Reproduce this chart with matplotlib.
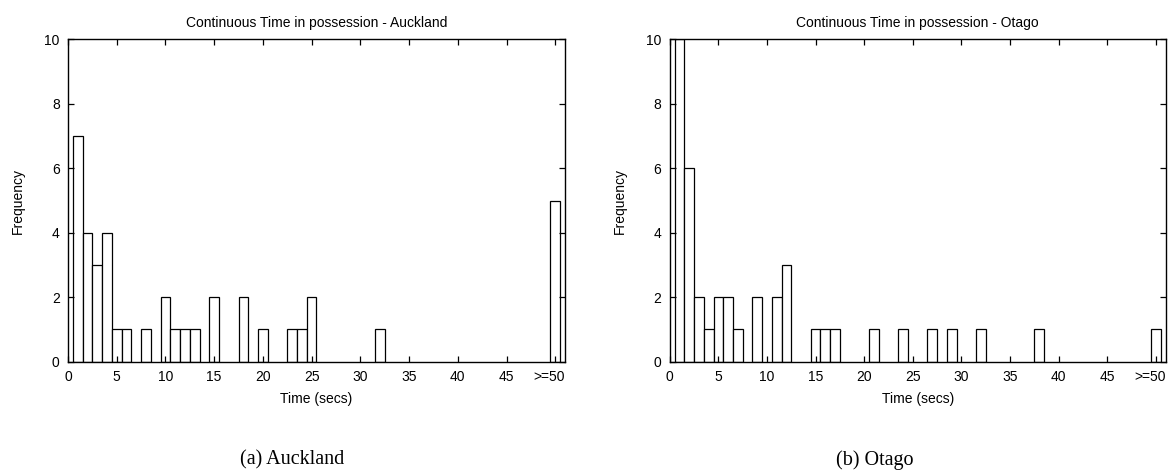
import matplotlib
matplotlib.use("Agg")
import matplotlib.pyplot as plt
import matplotlib.transforms as mtransforms

plt.rcParams['font.family'] = ['Liberation Sans', 'DejaVu Sans']

# Auckland histogram (bin centre -> frequency)
auck_bins = [1, 2, 3, 4, 5, 6, 8, 10, 11, 12, 13, 15, 18, 20, 23, 24, 25, 32, 50]
auck_freq = [7, 4, 3, 4, 1, 1, 1, 2, 1, 1, 1, 2, 2, 1, 1, 1, 2, 1, 5]

# Otago histogram
otago_bins = [1, 2, 3, 4, 5, 6, 7, 9, 11, 12, 15, 16, 17, 21, 24, 27, 29, 32, 38, 50]
otago_freq = [10, 6, 2, 1, 2, 2, 1, 2, 2, 3, 1, 1, 1, 1, 1, 1, 1, 1, 1, 1]

xtick_vals = [0, 5, 10, 15, 20, 25, 30, 35, 40, 45, 50]
xtick_labels = ['0', '5', '10', '15', '20', '25', '30', '35', '40', '45', '>=50']
ytick_vals = [0, 2, 4, 6, 8, 10]

titles = ['Continuous Time in possession - Auckland', 'Continuous Time in possession - Otago']
captions = ['(a) Auckland', '(b) Otago']

fig = plt.figure(figsize=(11.7, 4.7), dpi=100)
ax1 = fig.add_axes([0.0581, 0.2304, 0.4248, 0.686])
ax2 = fig.add_axes([0.5725, 0.2304, 0.4237, 0.686])

for ax, bins, freq, title in [(ax1, auck_bins, auck_freq, titles[0]),
                              (ax2, otago_bins, otago_freq, titles[1])]:
    ax.bar(bins, freq, width=1.0, color='white', edgecolor='black', linewidth=0.9)
    ax.set_xlim(0, 51)
    ax.set_ylim(0, 10)
    ax.set_xticks(xtick_vals)
    ax.set_xticklabels(xtick_labels)
    ax.set_yticks(ytick_vals)
    ax.tick_params(direction='in', length=4, width=0.9, top=True, right=True,
                   labelsize=10, pad=6, colors='black')
    for s in ax.spines.values():
        s.set_linewidth(1.0)
    ax.set_title(title, fontsize=10, pad=9)
    ax.set_xlabel('Time (secs)', fontsize=10, labelpad=6)
    ax.set_ylabel('Frequency', fontsize=10, labelpad=14)
    last = ax.get_xticklabels()[-1]
    last.set_transform(last.get_transform() +
                       mtransforms.ScaledTranslation(-0.06, 0, fig.dpi_scale_trans))

fig.text(0.25, 0.011, captions[0], family='Liberation Serif', fontsize=14.5, ha='center', va='baseline')
fig.text(0.748, 0.011, captions[1], family='Liberation Serif', fontsize=14.5, ha='center', va='baseline')

fig.savefig('out.png', dpi=100)
